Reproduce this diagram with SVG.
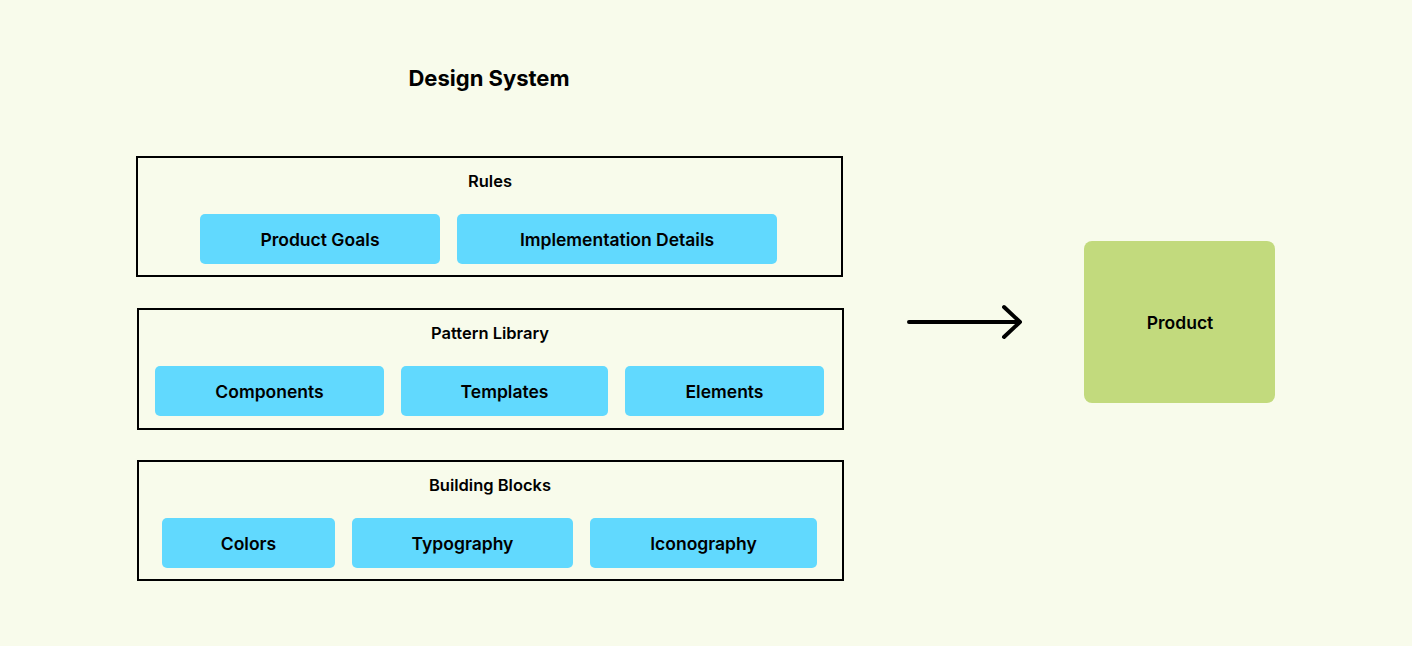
<svg xmlns="http://www.w3.org/2000/svg" width="1412" height="646" viewBox="0 0 1412 646">
<style>
.bg{fill:#f8fbeb}
.grp{fill:none;stroke:#000;stroke-width:2}
.item{fill:#61d9fe}
.prod{fill:#c2da7d}
text{font-family:Inter,"Liberation Sans",sans-serif;fill:#000;text-anchor:middle}
.t{font-size:16.5px;font-weight:600}
.n{font-size:17.5px;font-weight:600}
.title{font-size:22px;font-weight:700}
.conn{fill:none;stroke:#000;stroke-width:4;stroke-linecap:round;stroke-linejoin:round}
</style>
<rect class="bg" x="0" y="0" width="1412" height="646"/>
<text class="title" x="489" y="86">Design System</text>
<g id="rules">
<rect class="grp" x="137" y="157" width="705" height="119"/>
<text class="t" x="490" y="187">Rules</text>
</g>
<g id="product-goals"><rect class="item" x="200" y="214" width="240" height="50" rx="5"/><text class="n" x="320" y="246">Product Goals</text></g>
<g id="implementation-details"><rect class="item" x="457" y="214" width="320" height="50" rx="5"/><text class="n" x="617" y="246">Implementation Details</text></g>
<g id="pattern-library">
<rect class="grp" x="138" y="309" width="705" height="120"/>
<text class="t" x="490" y="339">Pattern Library</text>
</g>
<g id="components"><rect class="item" x="155" y="366" width="229" height="50" rx="5"/><text class="n" x="269.500" y="398">Components</text></g>
<g id="templates"><rect class="item" x="401" y="366" width="207" height="50" rx="5"/><text class="n" x="504.500" y="398">Templates</text></g>
<g id="elements"><rect class="item" x="625" y="366" width="199" height="50" rx="5"/><text class="n" x="724.500" y="398">Elements</text></g>
<g id="building-blocks">
<rect class="grp" x="138" y="461" width="705" height="119"/>
<text class="t" x="490" y="491">Building Blocks</text>
</g>
<g id="colors"><rect class="item" x="162" y="518" width="173" height="50" rx="5"/><text class="n" x="248.500" y="550">Colors</text></g>
<g id="typography"><rect class="item" x="352" y="518" width="221" height="50" rx="5"/><text class="n" x="462.500" y="550">Typography</text></g>
<g id="iconography"><rect class="item" x="590" y="518" width="227" height="50" rx="5"/><text class="n" x="703.500" y="550">Iconography</text></g>
<g id="product"><rect class="prod" x="1084" y="241" width="191" height="162" rx="8"/><text class="n" x="1180" y="329">Product</text></g>
<g id="connectors">
<path class="conn" d="M909 322 H1019 M1004 307 L1020 322 L1004 337"/>
</g>
</svg>
